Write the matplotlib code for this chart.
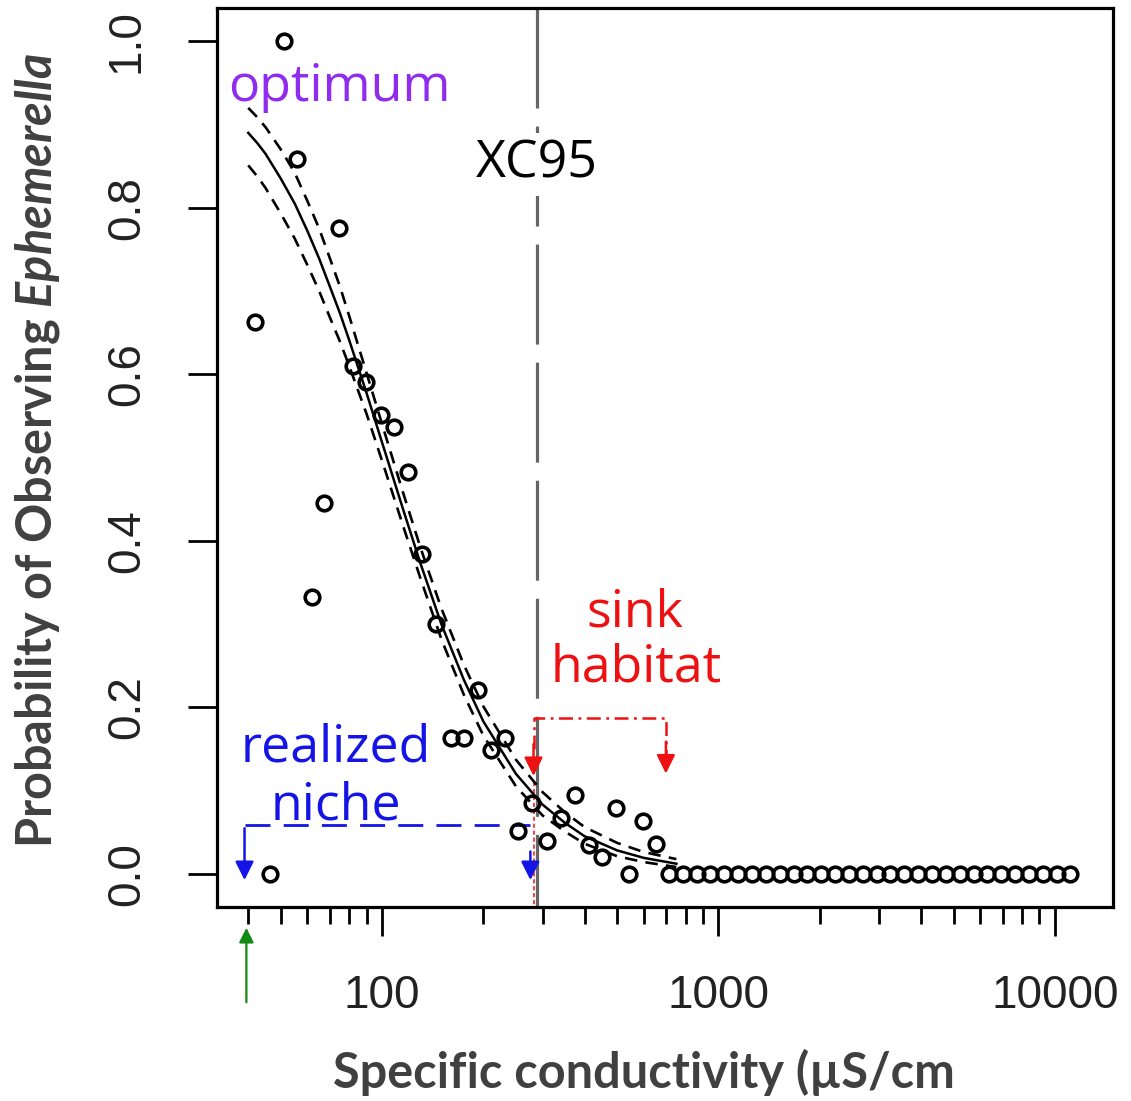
import matplotlib
matplotlib.use("Agg")
import matplotlib.pyplot as plt
from matplotlib.ticker import FixedLocator, FuncFormatter, NullFormatter

# observed proportions per conductivity bin
cond = [42.0, 46.3, 51.1, 55.9, 62.0, 67.4, 74.3, 81.8, 89.6, 99.3,
        108.8, 119.2, 131.5, 144.7, 160.3, 175.6, 192.4, 210.8, 232.5, 254.1,
        278.4, 308.4, 340.2, 375.2, 411.2, 452.2, 495.5, 542.9, 594.8, 654.3,
        713, 784, 861, 947, 1041, 1145, 1259, 1384, 1522, 1673,
        1839, 2022, 2223, 2444, 2687, 2954, 3248, 3571, 3926, 4316,
        4745, 5217, 5736, 6306, 6933, 7622, 8380, 9213, 10130, 11137]
prob = [0.663, 0.0, 1.0, 0.858, 0.333, 0.445, 0.776, 0.610, 0.591, 0.551,
        0.537, 0.483, 0.384, 0.300, 0.163, 0.163, 0.221, 0.149, 0.163, 0.051,
        0.085, 0.039, 0.067, 0.094, 0.034, 0.020, 0.079, 0.0, 0.063, 0.036,
        0, 0, 0, 0, 0, 0, 0, 0, 0, 0,
        0, 0, 0, 0, 0, 0, 0, 0, 0, 0,
        0, 0, 0, 0, 0, 0, 0, 0, 0, 0]

# fitted curve and confidence band
fit_x = [40, 42.5, 45, 50, 55, 60, 65, 70, 75, 80, 90, 100, 115, 130, 150, 175, 200,
         250, 300, 350, 400, 500, 600, 750]
fit_y = [0.89, 0.878, 0.865, 0.835, 0.805, 0.772, 0.739, 0.705, 0.673, 0.64, 0.577,
         0.518, 0.44, 0.373, 0.30, 0.233, 0.183, 0.12, 0.083, 0.061, 0.045, 0.028,
         0.019, 0.012]
upper = [0.920, 0.909, 0.897, 0.870, 0.842, 0.808, 0.775, 0.739, 0.705, 0.669, 0.601,
         0.540, 0.460, 0.392, 0.319, 0.251, 0.201, 0.137, 0.098, 0.0736, 0.056, 0.037,
         0.026, 0.0175]
lower = [0.851, 0.838, 0.824, 0.793, 0.763, 0.731, 0.700, 0.668, 0.639, 0.609, 0.552,
         0.496, 0.420, 0.355, 0.282, 0.215, 0.166, 0.105, 0.070, 0.0505, 0.036, 0.021,
         0.014, 0.008]

xc95 = 288
sink_left, sink_right = 282, 698
niche_left, niche_right = 39, 276

plt.rcParams['lines.scale_dashes'] = False
plt.rcParams['mathtext.fontset'] = 'custom'
plt.rcParams['mathtext.it'] = 'Lato:italic:bold'
plt.rcParams['mathtext.rm'] = 'Lato:bold'

RED = '#ee1111'
BLUE = '#1414e6'
PURPLE = '#8f2cf0'
GREEN = '#138a13'
ANN = 37.4

fig = plt.figure(figsize=(11.31, 11.01), dpi=100)
ax = fig.add_axes([217/1131, 194/1101, 896/1131, 899/1101])

ax.set_xscale('log')
ax.set_xlim(32.3, 14900)
ax.set_ylim(-0.04, 1.04)

# XC95 line
ax.plot([xc95, xc95], [1.04, -0.04], color='#666666', lw=2.3, dashes=(72, 13), zorder=1)
ax.text(xc95, 0.836, 'XC95', ha='center', va='baseline', fontsize=ANN, family='Open Sans',
        color='black', bbox=dict(fc='white', ec='none', pad=4), zorder=2)

# curve + band
ax.plot(fit_x, fit_y, color='black', lw=1.8, zorder=3)
ax.plot(fit_x, upper, color='black', lw=1.9, dashes=(9, 6), zorder=3)
ax.plot(fit_x, lower, color='black', lw=1.9, dashes=(9, 6), zorder=3)

ax.plot(cond, prob, 'o', ms=10.5, mfc='none', mec='black', mew=2.6, zorder=4)

# sink habitat bracket
ax.plot([sink_left, sink_left, sink_right, sink_right], [0.15, 0.187, 0.187, 0.14],
        color=RED, lw=1.8, dashes=(10, 4, 2, 4), zorder=2)
ax.plot([sink_left, sink_left], [0.11, -0.04], color=RED, lw=1.1, dashes=(3, 2), zorder=2)
for xa, tip in [(sink_left, 0.114), (sink_right, 0.117)]:
    ax.annotate('', xy=(xa, tip), xytext=(xa, tip + 0.045),
                arrowprops=dict(arrowstyle='-|>', color=RED, lw=1.8, mutation_scale=28), zorder=2)
ax.text(564, 0.297, 'sink', ha='center', va='baseline', fontsize=ANN, family='Open Sans', color=RED)
ax.text(568, 0.231, 'habitat', ha='center', va='baseline', fontsize=ANN, family='Open Sans', color=RED)

# realized niche bracket
ax.plot([niche_left, niche_right], [0.058, 0.058], color=BLUE, lw=2.0, dashes=(18, 9.5), zorder=2)
ax.annotate('', xy=(niche_left, -0.011), xytext=(niche_left, 0.058),
            arrowprops=dict(arrowstyle='-|>', color=BLUE, lw=1.8, mutation_scale=28), zorder=2)
ax.annotate('', xy=(niche_right, -0.011), xytext=(niche_right, 0.03),
            arrowprops=dict(arrowstyle='-|>', color=BLUE, lw=1.8, mutation_scale=28), zorder=2)
ax.text(73.0, 0.135, 'realized', ha='center', va='baseline', fontsize=ANN, family='Open Sans', color=BLUE)
ax.text(73.0, 0.065, 'niche', ha='center', va='baseline', fontsize=ANN, family='Open Sans', color=BLUE)

ax.text(74.6, 0.928, 'optimum', ha='center', va='baseline', fontsize=ANN, family='Open Sans',
        color=PURPLE, bbox=dict(fc='white', ec='none', pad=2), zorder=2)

# green arrow under the axis
ax.annotate('', xy=(39.5, -0.020), xycoords=('data', 'axes fraction'),
            xytext=(39.5, -0.109), textcoords=('data', 'axes fraction'),
            arrowprops=dict(arrowstyle='-|>', color=GREEN, lw=1.6, mutation_scale=22),
            annotation_clip=False)

# axes styling
for s in ax.spines.values():
    s.set_linewidth(2.3)
ax.xaxis.set_major_locator(FixedLocator([100, 1000, 10000]))
ax.xaxis.set_major_formatter(FuncFormatter(lambda v, _: f"{v:g}"))
minors = [m * d for d in (10, 100, 1000) for m in range(2, 10)]
ax.xaxis.set_minor_locator(FixedLocator(minors))
ax.xaxis.set_minor_formatter(NullFormatter())
ax.set_yticks([0, 0.2, 0.4, 0.6, 0.8, 1.0])
ax.set_yticklabels(['0.0', '0.2', '0.4', '0.6', '0.8', '1.0'])
ax.tick_params(which='major', length=21, width=2.0, labelsize=33, labelcolor='#222222')
ax.tick_params(which='minor', length=12, width=2.0)
ax.tick_params(axis='x', which='major', pad=27)
ax.tick_params(axis='y', which='major', pad=28, labelrotation=90)
for lab in ax.get_xticklabels() + ax.get_yticklabels():
    lab.set_family('Liberation Sans')
for lab in ax.get_yticklabels():
    lab.set_va('center')

fig.text(644/1131, 1 - 1088/1101, 'Specific conductivity (\u00b5S/cm', ha='center', va='baseline',
         fontsize=35, family='Lato', weight='bold', color='#404040')
fig.text(52/1131, 1 - 450/1101, r'Probability of Observing $\mathit{Ephemerella}$',
         rotation=90, rotation_mode='anchor', ha='center', va='baseline',
         fontsize=35, family='Lato', weight='bold', color='#404040')

fig.savefig('out.png', dpi=100, facecolor='white')
